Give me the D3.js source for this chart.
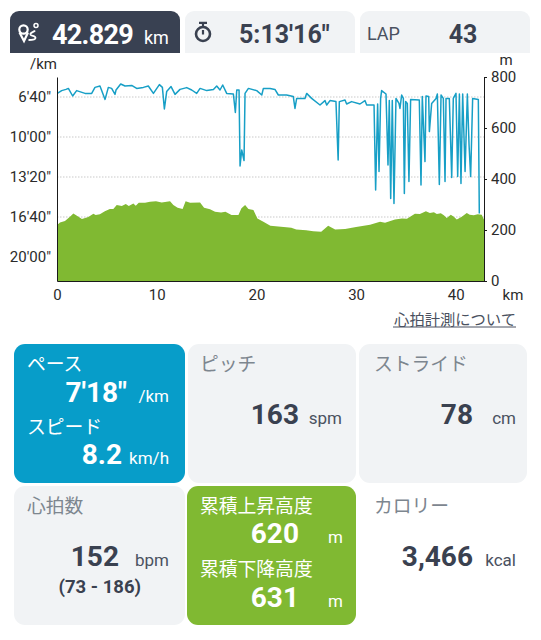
<!DOCTYPE html>
<html><head><meta charset="utf-8">
<script src="https://cdn.jsdelivr.net/npm/d3@7"></script>
<style>
html,body{margin:0;padding:0;background:#fff;overflow:hidden}
text{font-family:Roboto,"Noto Sans CJK JP",sans-serif}
.jp{font-family:"Noto Sans CJK JP",Roboto,sans-serif}
</style></head><body>
<svg id="c" width="541" height="640"></svg>
<script>
const elevKm=[0,0.07,0.3,0.8,1.3,1.64,2.0,2.5,3.14,3.65,3.88,4.3,4.8,5.3,5.65,5.99,6.5,6.9,7.2,7.66,7.9,8.2,8.83,9.33,9.93,10.5,11,11.34,11.67,12.1,12.6,12.9,13.35,14.35,14.75,15.35,15.85,16.45,16.9,17.5,18.2,18.5,18.87,19.2,19.7,20.1,20.7,21.4,23,23.5,24,25,25.7,26.5,27.2,27.9,28.9,30,31.4,32.4,32.9,33.9,34.6,35.1,35.9,36.4,37,37.4,37.8,38.1,38.5,38.8,39.1,39.5,39.8,40.1,40.6,41.1,41.4,41.8,42.2,42.6,42.829];
const elevM=[228,222,229,235,252,265,256,243,251,264,259,262,274,282,282,298,294,302,294,304,295,307,307,311,313,308,311,313,298,287,282,313,307,308,287,281,272,269,272,259,259,285,298,282,278,245,232,217,211,209,202,199,195,193,217,202,204,212,221,232,228,241,245,244,264,263,274,267,270,263,266,258,247,260,252,241,252,267,260,258,262,260,241];
const paceKm=[0.03,0.47,0.9,1.14,1.57,1.97,2.81,3.48,3.81,4.31,4.82,5.15,5.48,5.82,5.92,6.39,6.82,7.49,7.99,8.66,9.16,9.67,10.27,10.57,10.77,11.0,11.44,11.84,12.34,13.01,13.51,14.01,14.35,15.02,15.69,16.02,16.35,16.62,17.02,17.69,17.89,18.03,18.26,18.36,18.53,18.76,18.86,19.2,20.03,20.54,20.7,21.37,21.86,22.2,22.53,23.03,23.7,23.87,24.04,24.87,25.04,25.54,26.38,26.88,27.05,27.38,27.98,28.2,28.32,28.89,29.05,29.55,30.39,30.89,31.06,31.8,31.96,32.16,32.3,32.46,32.56,33.0,33.2,33.33,33.47,33.63,33.8,34.0,34.3,34.4,34.57,34.74,34.84,34.97,35.14,35.3,35.47,36.34,36.51,36.64,36.91,37.01,37.28,37.35,37.58,38.02,38.15,38.35,38.52,38.75,38.92,39.02,39.35,39.59,39.75,40.02,40.19,40.36,40.52,40.69,40.93,41.16,41.33,41.49,41.69,42.26,42.36];
const paceSec=[382,368,362,357,395,368,382,382,352,345,412,352,357,387,365,335,345,342,357,352,345,382,338,352,460,373,348,387,362,353,365,382,357,368,362,345,365,340,382,385,477,365,365,745,665,718,382,357,368,390,357,357,362,390,390,390,398,457,407,407,382,407,440,418,440,418,423,715,423,415,435,423,435,418,440,440,865,435,773,407,368,385,740,418,907,418,932,407,432,457,390,407,882,423,432,823,412,415,840,398,723,395,398,573,432,407,385,837,390,407,823,407,407,802,407,382,798,385,832,385,773,385,640,798,407,412,982];
const kmTicks=[0,10,20,30,40];
const elevTicks=[0,200,400,600,800];
const paceTicks=[400,600,800,1000,1200];
const paceLabels=["6'40\"","10'00\"","13'20\"","16'40\"","20'00\""];
const headerCards=[{v:"42.829",u:"km"},{v:"5:13'16\""},{l:"LAP",v:"43"}];

const svg=d3.select("#c");
const NAVY="#394152",INK="#3a4150",GREY="#f1f3f5",BLUE="#079dc9",GREEN="#80b932",LBL="#7d868f",UNIT="#4a5160";

const x=d3.scaleLinear().domain([0,42.829]).range([57,484]);
const yE=d3.scaleLinear().domain([0,800]).range([281,77]);
const yP=d3.scaleLinear().domain([300,1320]).range([77,281]);

function t(px,py,s,size,fill,o={}){
  const e=svg.append("text").attr("x",px).attr("y",py).text(s)
    .attr("font-size",size).attr("fill",fill)
    .attr("text-anchor",o.a||"start").attr("font-weight",o.w||400);
  if(o.jp)e.attr("class","jp");
  if(o.ls)e.attr("letter-spacing",o.ls);
  return e;
}
function topCard(x0,w,fill){
  svg.append("path").attr("fill",fill).attr("d",
   `M${x0},53V20a9,9 0 0 1 9,-9H${x0+w-9}a9,9 0 0 1 9,9V53Z`);
}
function card(x0,y0,w,h,fill){
  svg.append("rect").attr("x",x0).attr("y",y0).attr("width",w).attr("height",h).attr("rx",11).attr("fill",fill);
}

// header
topCard(10,170,NAVY);topCard(185,170,GREY);topCard(360,170,GREY);
// route icon
const ic=svg.append("g").attr("fill","none").attr("stroke","#fff").attr("stroke-width",2);
ic.append("circle").attr("cx",23.500).attr("cy",29.500).attr("r",4.200).attr("stroke-width",2.200);
ic.append("path").attr("stroke-width",2.200).attr("d","M19.500,32.500L24,41L28,32.500");
ic.append("circle").attr("cx",36).attr("cy",25.500).attr("r",2).attr("stroke-width",1.500);
ic.append("path").attr("stroke-width",1.800).attr("d","M35,30.500c-1,2-5,1.500-4.500,4c.5,2 5,1 5,3.500c0,2-4,2-7,2");
t(52,44,headerCards[0].v,27,"#fff",{w:700,ls:-0.7});
t(144,44,headerCards[0].u,18,"#fff");
const sw=svg.append("g").attr("fill","none").attr("stroke",INK).attr("stroke-width",2.600);
sw.append("circle").attr("cx",203).attr("cy",34).attr("r",7);
sw.append("path").attr("stroke-width",2.200).attr("d","M199,22.800H207M203,23V26M203,30V34.500");
t(239,43,headerCards[1].v,25,INK,{w:700});
t(367,40,headerCards[2].l,18,UNIT);
t(463,43,headerCards[2].v,25,INK,{w:700,a:"middle"});

// chart grid
svg.append("g").selectAll("line").data(paceTicks).join("line")
  .attr("x1",x.range()[0]).attr("x2",x.range()[1])
  .attr("y1",d=>yP(d)).attr("y2",d=>yP(d))
  .attr("stroke","#c9c9c9").attr("stroke-width",1).attr("stroke-dasharray","1.500 1.500");

// elevation
svg.append("path").datum(elevKm.map((k,i)=>[k,elevM[i]])).attr("fill",GREEN)
  .attr("d",d3.area().x(d=>x(d[0])).y0(yE(0)).y1(d=>yE(d[1])));
// pace
svg.append("path").datum(paceKm.map((k,i)=>[k,paceSec[i]])).attr("fill","none")
  .attr("stroke","#179fc6").attr("stroke-width",1.500).attr("stroke-linejoin","round")
  .attr("d",d3.line().x(d=>x(d[0])).y(d=>yP(d[1])));

// axes
const styleAxis=g=>{g.selectAll("text").attr("font-size",15).attr("fill","#2b2b2b").attr("font-family","Roboto");
  g.selectAll("path,line").attr("stroke","#1a1a1a");};
svg.append("g").attr("transform",`translate(${x.range()[0]},0)`)
  .call(d3.axisLeft(yP).tickValues(paceTicks).tickFormat((d,i)=>paceLabels[i]).tickSize(0).tickPadding(6)).call(styleAxis);
svg.append("g").attr("transform",`translate(${x.range()[1]},0)`)
  .call(d3.axisRight(yE).tickValues(elevTicks).tickSize(3).tickSizeOuter(0).tickPadding(4)).call(styleAxis);
svg.append("g").attr("transform",`translate(0,${yE(0)})`)
  .call(d3.axisBottom(x).tickValues(kmTicks).tickSize(0).tickPadding(8)).call(styleAxis);
t(30,69,"/km",15,"#2b2b2b");
t(506,65,"m",15,"#2b2b2b",{a:"middle"});
t(513,300,"km",15,"#2b2b2b",{a:"middle"});

// link
t(516,325,"心拍計測について",15.300,UNIT,{a:"end",jp:true});
svg.append("line").attr("x1",393).attr("x2",516).attr("y1",327).attr("y2",327).attr("stroke",UNIT).attr("stroke-width",1);

// stat cards
card(14,344,171,139,BLUE);card(188,344,168,139,GREY);card(359,344,168,139,GREY);
card(14,486,171,139,GREY);card(187,486,169,139,GREEN);

const J=18.8,V=28,U=17;
t(27,371,"ペース",J,"#fff",{jp:true});
t(127,402,"7'18\"",V,"#fff",{a:"end",w:700});
t(169,402,"/km",U,"#fff",{a:"end"});
t(27,434,"スピード",J,"#fff",{jp:true});
t(122,464,"8.2",V,"#fff",{a:"end",w:700});
t(169,464,"km/h",U,"#fff",{a:"end"});

t(200,371,"ピッチ",J,LBL,{jp:true});
t(299,424,"163",V,INK,{a:"end",w:700});
t(342,424,"spm",U,UNIT,{a:"end"});

t(374,371,"ストライド",J,LBL,{jp:true});
t(473,424,"78",V,INK,{a:"end",w:700});
t(516,424,"cm",U,UNIT,{a:"end"});

t(27,513,"心拍数",J,LBL,{jp:true});
t(119,566,"152",V,INK,{a:"end",w:700});
t(169,566,"bpm",U,UNIT,{a:"end"});
t(141,593,"(73 - 186)",18.500,INK,{a:"end",w:700});

t(200,513,"累積上昇高度",J,"#fff",{jp:true});
t(299,543,"620",V,"#fff",{a:"end",w:700});
t(343,543,"m",U,"#fff",{a:"end"});
t(200,576,"累積下降高度",J,"#fff",{jp:true});
t(299,607,"631",V,"#fff",{a:"end",w:700});
t(343,607,"m",U,"#fff",{a:"end"});

t(374,513,"カロリー",J,LBL,{jp:true});
t(473,566,"3,466",V,INK,{a:"end",w:700});
t(516,566,"kcal",U,UNIT,{a:"end"});
</script></body></html>
